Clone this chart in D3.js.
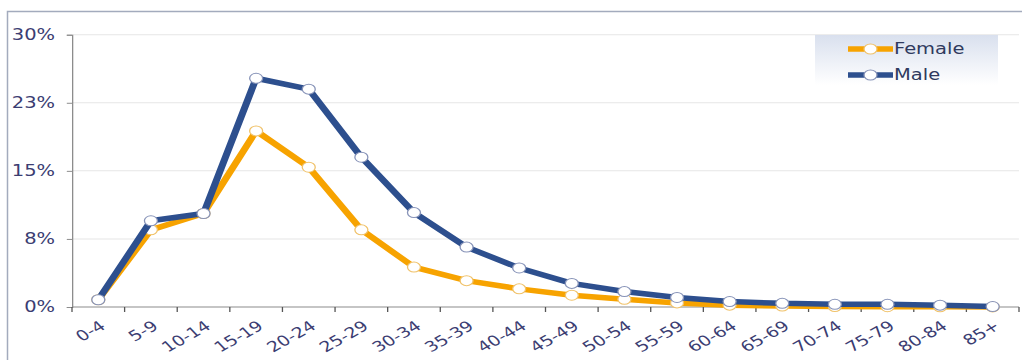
<!DOCTYPE html>
<html>
<head>
<meta charset="utf-8">
<script src="https://cdn.jsdelivr.net/npm/d3@7"></script>
<style>
  html, body { margin: 0; padding: 0; background: #fff; }
  svg { display: block; }
  text { font-family: "DejaVu Sans", sans-serif; }
</style>
</head>
<body>
<svg id="chart" width="1022" height="360"></svg>
<script>
// Age groups on the x axis
const ageGroups = ["0-4","5-9","10-14","15-19","20-24","25-29","30-34","35-39","40-44",
  "45-49","50-54","55-59","60-64","65-69","70-74","75-79","80-84","85+"];

// Share of each age group (%)
const femaleShare = [0.8, 8.5, 10.3, 19.4, 15.4, 8.5, 4.4, 2.9, 2.0,
  1.3, 0.85, 0.45, 0.2, 0.1, 0.05, 0.03, 0.02, 0.01];
const maleShare = [0.8, 9.5, 10.3, 25.2, 24.0, 16.5, 10.4, 6.6, 4.3,
  2.6, 1.7, 1.05, 0.6, 0.4, 0.3, 0.3, 0.2, 0.05];

// y axis ticks (%)
const yTicks = [0, 7.5, 15, 22.5, 30];

const seriesNames = ["Female", "Male"];
const seriesColors = { Female: "#f7a300", Male: "#2d4f8e" };
const markerStroke = { Female: "#f0c26a", Male: "#8793b8" };

const series = [
  { name: "Female", values: femaleShare },
  { name: "Male", values: maleShare }
];

// The chart is laid out in a narrower space and stretched horizontally.
const sx = 1.3;
const labelColor = "#3b3d72";

const svg = d3.select("#chart");

// outer frame (left and top edges)
svg.append("path")
  .attr("d", "M7.5,360 V11.5 H1022")
  .attr("fill", "none")
  .attr("stroke", "#a3abbd")
  .attr("stroke-width", 1.5);

const root = svg.append("g").attr("transform", `scale(${sx},1)`);

const x = d3.scaleBand().domain(ageGroups).range([72 / sx, 1019 / sx]);
const y = d3.scaleLinear().domain([0, 30]).range([307, 34.7]);

// gridlines
root.append("g")
  .selectAll("line")
  .data(yTicks.filter(d => d > 0))
  .join("line")
  .attr("x1", x.range()[0])
  .attr("x2", x.range()[1])
  .attr("y1", d => y(d))
  .attr("y2", d => y(d))
  .attr("stroke", "#e6e6e6")
  .attr("stroke-width", 1);

// y axis
const yAxis = root.append("g")
  .attr("transform", `translate(${x.range()[0]},0)`)
  .call(d3.axisLeft(y).tickValues(yTicks).tickSize(4).tickPadding(9)
    .tickFormat(d => d.toFixed(0) + "%"));
yAxis.select(".domain").attr("stroke", "#8c8c8c");
yAxis.selectAll(".tick line").attr("stroke", "#8c8c8c");
yAxis.selectAll(".tick text")
  .attr("fill", labelColor)
  .style("font-size", "15px")
  .style("font-family", "DejaVu Sans, sans-serif");

// x axis with ticks between categories
const xAxisG = root.append("g").attr("transform", `translate(0,${y(0)})`);
xAxisG.append("line")
  .attr("x1", x.range()[0]).attr("x2", x.range()[1])
  .attr("stroke", "#8c8c8c");
const boundaries = ageGroups.map(d => x(d)).concat([x.range()[1]]);
xAxisG.selectAll("line.tk")
  .data(boundaries)
  .join("line")
  .attr("class", "tk")
  .attr("x1", d => d).attr("x2", d => d)
  .attr("y1", 0).attr("y2", 5)
  .attr("stroke", "#555");
xAxisG.selectAll("text")
  .data(ageGroups)
  .join("text")
  .attr("transform", d => `translate(${x(d) + x.bandwidth() / 2 + 3.5},${17}) rotate(-36)`)
  .attr("text-anchor", "end")
  .attr("dy", "0.35em")
  .attr("fill", labelColor)
  .style("font-size", "14.5px")
  .text(d => d);

// lines and markers
const line = d3.line()
  .x((d, i) => x(ageGroups[i]) + x.bandwidth() / 2)
  .y(d => y(d));

series.forEach(s => {
  const g = root.append("g");
  g.append("path")
    .datum(s.values)
    .attr("d", line)
    .attr("fill", "none")
    .attr("stroke", seriesColors[s.name])
    .attr("stroke-width", 5.5)
    .attr("stroke-linejoin", "round");
  g.selectAll("circle")
    .data(s.values)
    .join("circle")
    .attr("cx", (d, i) => x(ageGroups[i]) + x.bandwidth() / 2)
    .attr("cy", d => y(d))
    .attr("r", 5)
    .attr("fill", "#fff")
    .attr("stroke", markerStroke[s.name])
    .attr("stroke-width", 1);
});

// legend
const defs = svg.append("defs");
const grad = defs.append("linearGradient")
  .attr("id", "legendBg").attr("x1", 0).attr("x2", 0).attr("y1", 0).attr("y2", 1);
grad.append("stop").attr("offset", "0%").attr("stop-color", "#d9e0ee");
grad.append("stop").attr("offset", "100%").attr("stop-color", "#ffffff");

const legend = root.append("g");
legend.append("rect")
  .attr("x", 815 / sx).attr("y", 35)
  .attr("width", (998 - 815) / sx).attr("height", 50)
  .attr("fill", "url(#legendBg)");

const legendItems = legend.selectAll("g.item")
  .data(seriesNames)
  .join("g")
  .attr("class", "item")
  .attr("transform", (d, i) => `translate(${848 / sx},${49 + i * 26})`);
legendItems.append("line")
  .attr("x1", 0).attr("x2", 45 / sx)
  .attr("stroke", d => seriesColors[d])
  .attr("stroke-width", 5.5);
legendItems.append("circle")
  .attr("cx", 22.5 / sx).attr("r", 5)
  .attr("fill", "#fff")
  .attr("stroke", d => markerStroke[d]);
legendItems.append("text")
  .attr("x", 46 / sx)
  .attr("dy", "0.36em")
  .attr("fill", "#2f3a5e")
  .style("font-size", "15px")
  .text(d => d);
</script>
</body>
</html>
